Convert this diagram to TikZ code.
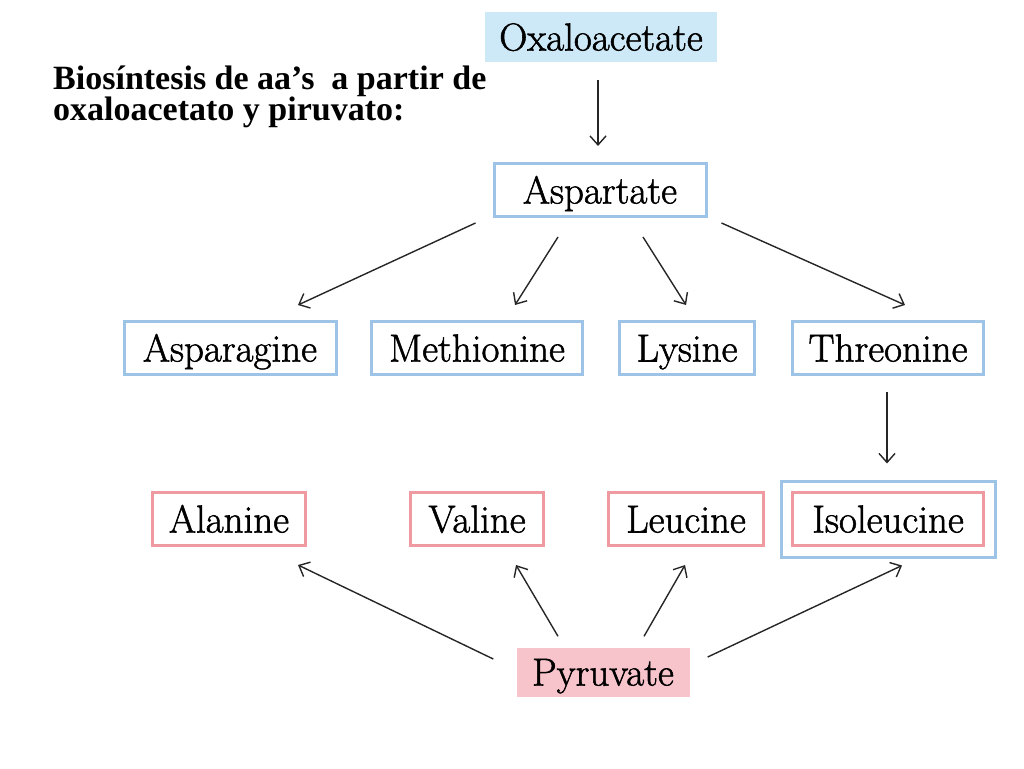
\documentclass[tikz,border=0pt]{standalone}
\usepackage{fontspec}
\newfontfamily\titlefont{Liberation Serif}
\newfontfamily\boxfont{Latin Modern Roman}[FakeBold=1.4]
\usetikzlibrary{arrows.meta,fit}
\definecolor{boxblue}{HTML}{9DC3E6}
\definecolor{fillblue}{HTML}{CDE9F8}
\definecolor{boxred}{HTML}{EE9AA0}
\definecolor{fillred}{HTML}{F7C4CB}
\tikzset{
  bluebox/.style={draw=boxblue,line width=3pt,minimum height=53,text height=27,text depth=0},
  redbox/.style={draw=boxred,line width=3pt,minimum height=53,text height=27,text depth=0},
  bluefill/.style={fill=fillblue,minimum height=50,text height=27,text depth=0},
  redfill/.style={fill=fillred,minimum height=49,text height=27,text depth=0},
  titleline/.style={anchor=base west,inner sep=0,font=\titlefont\bfseries\fontsize{34}{38}\selectfont},
  arr/.style={-{Straight Barb[length=9,width=16]},line width=1.4pt,draw=black!85}
}
\begin{document}
\begin{tikzpicture}[x=1pt,y=-1pt,font=\boxfont\fontsize{39}{46}\selectfont]
\useasboundingbox (0,0) rectangle (1024,768);
% title
\node (title1) at (53,89) [titleline] {Biosíntesis de aa’s\ \ a partir de};
\node (title2) at (53,120) [titleline] {oxaloacetato y piruvato:};
% from oxaloacetate
\node (ox) at (601,37) [bluefill,minimum width=232] {Oxaloacetate};
\node (asp) at (600,190) [bluebox,minimum width=212] {Aspartate};
\node (asn) at (230,348) [bluebox,minimum width=212] {Asparagine};
\node (met) at (477,348) [bluebox,minimum width=211] {Methionine};
\node (lys) at (687,348) [bluebox,minimum width=135] {Lysine};
\node (thr) at (888,348) [bluebox,minimum width=191] {Threonine};
% from pyruvate
\node (ala) at (229,519) [redbox,minimum width=153] {Alanine};
\node (val) at (477,519) [redbox,minimum width=133] {Valine};
\node (leu) at (686,519) [redbox,minimum width=155] {Leucine};
\node (ile) at (888,519) [redbox,minimum width=191] {Isoleucine};
\node (ileout) [draw=boxblue,line width=3pt,inner sep=10,fit=(ile)] {};
\node (pyr) at (603,672) [redfill,minimum width=173] {Pyruvate};
\draw[arr] ([shift={(-3,18)}]ox.south) -- ([shift={(-2,-16)}]asp.north);
\draw[arr] ([shift={(-17,5)}]asp.south west) -- ([shift={(68,-15)}]asn.north);
\draw[arr] ([shift={(-42,19)}]asp.south) -- ([shift={(38,-15)}]met.north);
\draw[arr] ([shift={(43,19)}]asp.south) -- ([shift={(-1,-15)}]lys.north);
\draw[arr] ([shift={(14,5)}]asp.south east) -- ([shift={(17,-15)}]thr.north);
\draw[arr] ([shift={(-1,16)}]thr.south) -- ([shift={(-1,-16)}]ileout.north);
\draw[arr] ([shift={(-23,-13)}]pyr.west) -- ([shift={(69,18)}]ala.south);
\draw[arr] ([shift={(-45,-11)}]pyr.north) -- ([shift={(39,18)}]val.south);
\draw[arr] ([shift={(41,-11)}]pyr.north) -- ([shift={(-1,18)}]leu.south);
\draw[arr] ([shift={(18,-15)}]pyr.east) -- ([shift={(14,7)}]ileout.south);
\end{tikzpicture}
\end{document}
